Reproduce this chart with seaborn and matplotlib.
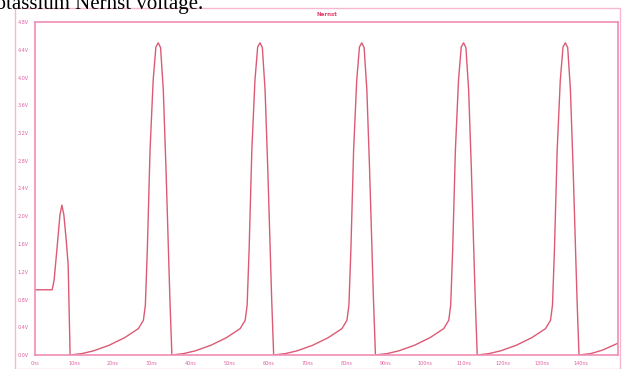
import matplotlib
matplotlib.use("Agg")
import matplotlib.pyplot as plt
import seaborn as sns
from matplotlib.patches import Rectangle

# ---------- data (time in ns, voltage in V) ----------
time_ns = [
    0.0, 4.4, 4.9, 5.6, 6.4, 6.9, 7.4, 8.0, 8.5, 8.7, 9.0,
    12.0, 15.0, 19.0, 23.0, 26.5, 27.8, 28.3, 28.8, 29.5, 30.3, 31.0, 31.6, 32.2, 32.9, 33.6, 34.6, 35.1,
    38.1, 41.1, 45.1, 49.1, 52.6, 53.9, 54.4, 54.9, 55.6, 56.4, 57.1, 57.7, 58.3, 59.0, 59.7, 60.7, 61.2,
    64.2, 67.2, 71.2, 75.2, 78.7, 80.0, 80.5, 81.0, 81.7, 82.5, 83.2, 83.8, 84.4, 85.1, 85.8, 86.8, 87.3,
    90.3, 93.3, 97.3, 101.3, 104.8, 106.1, 106.6, 107.1, 107.8, 108.6, 109.3, 109.9, 110.5, 111.2, 111.9, 112.9, 113.4,
    116.4, 119.4, 123.4, 127.4, 130.9, 132.2, 132.7, 133.2, 133.9, 134.7, 135.4, 136.0, 136.6, 137.3, 138.0, 139.0, 139.5,
    142.5, 145.5, 149.5,
]
volts = [
    0.94, 0.94, 1.08, 1.51, 2.02, 2.16, 2.02, 1.66, 1.30, 0.79, 0.00,
    0.02, 0.06, 0.14, 0.25, 0.38, 0.50, 0.72, 1.51, 2.95, 3.96, 4.44, 4.50, 4.43, 3.82, 2.67, 0.79, 0.00,
    0.02, 0.06, 0.14, 0.25, 0.38, 0.50, 0.72, 1.51, 2.95, 3.96, 4.44, 4.50, 4.43, 3.82, 2.67, 0.79, 0.00,
    0.02, 0.06, 0.14, 0.25, 0.38, 0.50, 0.72, 1.51, 2.95, 3.96, 4.44, 4.50, 4.43, 3.82, 2.67, 0.79, 0.00,
    0.02, 0.06, 0.14, 0.25, 0.38, 0.50, 0.72, 1.51, 2.95, 3.96, 4.44, 4.50, 4.43, 3.82, 2.67, 0.79, 0.00,
    0.02, 0.06, 0.14, 0.25, 0.38, 0.50, 0.72, 1.51, 2.95, 3.96, 4.44, 4.50, 4.43, 3.82, 2.67, 0.79, 0.00,
    0.02, 0.07, 0.17,
]

x_ticks = [0, 10, 20, 30, 40, 50, 60, 70, 80, 90, 100, 110, 120, 130, 140]
x_labels = [f"{v}ns" for v in x_ticks]
y_ticks = [0.0, 0.4, 0.8, 1.2, 1.6, 2.0, 2.4, 2.8, 3.2, 3.6, 4.0, 4.4, 4.8]
y_labels = [f"{v:.1f}V" for v in y_ticks]

pink = "#f08cb4"
trace = "#dc5a74"

# ---------- figure ----------
sns.set_style("white")
fig = plt.figure(figsize=(6.22, 3.69), dpi=100)
ax = fig.add_axes([35 / 622, 14 / 369, 583 / 622, 333 / 369])

sns.lineplot(x=time_ns, y=volts, ax=ax, color=trace, linewidth=1.0,
             sort=False, estimator=None)

ax.set_xlim(0, 149.5)
ax.set_ylim(0, 4.8)
ax.set_xticks(x_ticks)
ax.set_xticklabels(x_labels)
ax.set_yticks(y_ticks)
ax.set_yticklabels(y_labels)
ax.tick_params(axis="both", colors=pink, labelsize=3.5, length=3, width=0.6,
               direction="out", pad=1.5)
ax.tick_params(axis="x", labelcolor="#e060a0")
ax.tick_params(axis="y", labelcolor="#e060a0")
for s in ax.spines.values():
    s.set_color(pink)
    s.set_linewidth(1.2)
ax.set_xlabel("")
ax.set_ylabel("")

# outer window frame and title band
fig.patches.append(Rectangle((15 / 622, 0), 605 / 622, 361 / 369,
                             transform=fig.transFigure, fill=False,
                             edgecolor="#f5b8d0", linewidth=1.0))
fig.text(327 / 622, 355 / 369, "Nernst", color="#e0406a", fontsize=4,
         fontweight="bold", ha="center", va="center")

# caption from the document above the chart (its top is cropped in the source)
fig.text(-16 / 622, 360 / 369, "Potassium Nernst voltage.", family="Liberation Serif",
         fontsize=15, color="black", ha="left", va="baseline")

fig.savefig("out.png", dpi=100)
